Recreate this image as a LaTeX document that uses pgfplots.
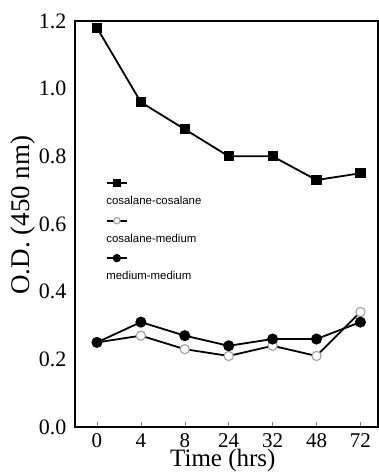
\documentclass[border=0pt]{standalone}
\usepackage{fontspec}
\setmainfont{Liberation Serif}
\newfontfamily\legfont{Liberation Sans}
\usepackage{pgfplots}
\pgfplotsset{compat=1.18}
\begin{document}
\begin{tikzpicture}
\begin{axis}[
  scale only axis,
  width=151.5pt, height=203pt,
  xmin=-0.5, xmax=6.4,
  ymin=0, ymax=1.2,
  xtick={0,1,2,3,4,5,6},
  xticklabels={0,4,8,24,32,48,72},
  ytick={0,0.2,0.4,0.6,0.8,1.0,1.2},
  yticklabel style={xshift=-0.8pt,font=\fontsize{11}{13}\selectfont,/pgf/number format/.cd,fixed,fixed zerofill,precision=1},
  /pgf/number format/assume math mode=true,
  tick align=inside,
  major tick length=2.5pt,
  ytick style={draw=none},
  xtick pos=bottom,
  axis line style={line width=0.9pt},
  xticklabel style={inner sep=0pt, yshift=-3pt, font=\fontsize{10.5}{12}\selectfont},
  xlabel={Time (hrs)},
  ylabel={O.D. (450 nm)},
  label style={font=\fontsize{13.5}{15}\selectfont},
  xlabel style={at={(axis description cs:0.488,-0.0973)}, anchor=base, inner sep=0pt, font=\fontsize{12.5}{14}\selectfont},
  ylabel style={at={(axis description cs:-0.172,0.522)}, anchor=center},
  legend style={draw=none, fill=none, at={(0.1,0.615)}, anchor=north west,
    font=\legfont\fontsize{5.7}{6.5}\selectfont, row sep=1.8pt, inner sep=0pt,
    cells={anchor=west}},
  legend image code/.code={\draw[mark repeat=2,mark phase=2,every mark/.append style={scale=0.7}] plot coordinates {(0cm,0cm) (0.18cm,0cm) (0.36cm,0cm)};},
]
\addplot[black, line width=0.9pt, mark=square*, mark size=2.1pt, mark options={solid,fill=black}]
  coordinates {(0,1.18) (1,0.96) (2,0.88) (3,0.80) (4,0.80) (5,0.73) (6,0.75)};
\addlegendentry{}
\addlegendimage{empty legend}
\addlegendentry{\hspace*{-0.45cm}cosalane-cosalane}
\addplot[black, line width=0.9pt, mark=*, mark size=2.3pt, mark options={solid,draw=gray!70,fill=white,line width=0.6pt}]
  coordinates {(0,0.25) (1,0.27) (2,0.23) (3,0.21) (4,0.24) (5,0.21) (6,0.34)};
\addlegendentry{}
\addlegendimage{empty legend}
\addlegendentry{\hspace*{-0.45cm}cosalane-medium}
\addplot[black, line width=0.9pt, mark=*, mark size=2.3pt, mark options={solid,fill=black}]
  coordinates {(0,0.25) (1,0.31) (2,0.27) (3,0.24) (4,0.26) (5,0.26) (6,0.31)};
\addlegendentry{}
\addlegendimage{empty legend}
\addlegendentry{\hspace*{-0.45cm}medium-medium}
\end{axis}
\pgfresetboundingbox
\path ([xshift=-37.5pt,yshift=-22.5pt]current axis.south west) rectangle ([xshift=0.5pt,yshift=10.5pt]current axis.north east);
\end{tikzpicture}
\end{document}
